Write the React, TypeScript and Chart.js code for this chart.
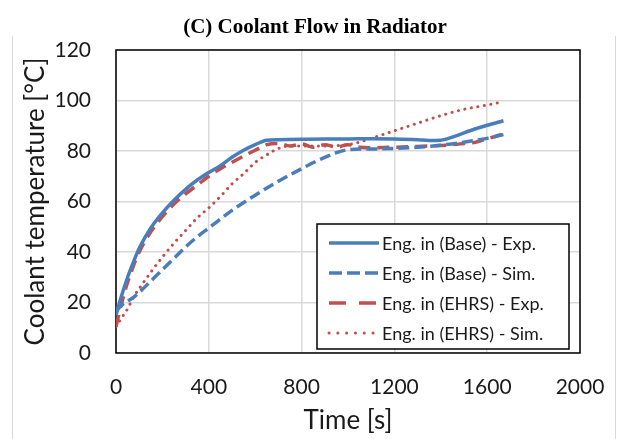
import React, { useEffect, useRef } from "react";
import { Chart, registerables } from "chart.js";

Chart.register(...registerables);

const TITLE = "(C) Coolant Flow in Radiator";
const X_TITLE = "Time [s]";
const Y_TITLE = "Coolant temperature [°C]";
const LABELS = [
  "Eng. in (Base) - Exp.",
  "Eng. in (Base) - Sim.",
  "Eng. in (EHRS) - Exp.",
  "Eng. in (EHRS) - Sim.",
];

const baseExpT = [0, 25, 50, 75, 100, 150, 200, 250, 300, 350, 400, 450, 500, 550, 600, 650, 700, 800, 900, 1000, 1100, 1200, 1300, 1350, 1400, 1450, 1500, 1550, 1600, 1670];
const baseExpV = [15, 23, 30, 36, 41.5, 49.5, 55.5, 60.5, 64.8, 68.5, 71.5, 74.2, 77.5, 80.3, 82.5, 84.3, 84.5, 84.7, 84.8, 84.8, 84.9, 84.8, 84.5, 84.2, 84.3, 85.5, 87.2, 88.8, 90.2, 92];

const baseSimT = [0, 25, 50, 75, 100, 150, 200, 250, 300, 350, 400, 500, 600, 700, 800, 900, 1000, 1100, 1200, 1300, 1400, 1500, 1600, 1670];
const baseSimV = [16.5, 19, 20.5, 22, 24, 28.5, 33, 37.5, 42, 46, 49.5, 56.5, 62.5, 68, 73, 77.5, 80.5, 80.8, 81, 81.5, 82.3, 83.5, 85, 86.5];

const ehrsExpT = [0, 25, 50, 75, 100, 150, 200, 250, 300, 350, 400, 450, 500, 550, 600, 650, 700, 750, 800, 850, 900, 950, 1000, 1050, 1100, 1200, 1300, 1400, 1450, 1500, 1550, 1600, 1670];
const ehrsExpV = [10.5, 20, 28, 34.5, 40, 48, 54, 59, 63, 66.5, 70, 73, 75.5, 78, 80.3, 82.5, 83, 82, 82.8, 81.5, 82.5, 81.5, 82.5, 81.5, 81.3, 81.5, 81.8, 82.2, 82.5, 83, 83.5, 84.8, 86.8];

const ehrsSimT = [0, 25, 50, 75, 100, 150, 200, 250, 300, 350, 400, 450, 500, 550, 600, 650, 700, 750, 800, 900, 1000, 1050, 1100, 1150, 1200, 1300, 1400, 1500, 1600, 1670];
const ehrsSimV = [10.5, 14, 17.5, 22, 25.5, 32, 38, 43.5, 48.5, 53.5, 57.5, 62, 67, 71, 75.5, 78.5, 81, 82, 82, 82, 82.5, 83.5, 85, 86.5, 88, 91, 94, 96.5, 98.2, 99.5];

const X_TICKS = [0, 400, 800, 1200, 1600, 2000];
const Y_TICKS = [0, 20, 40, 60, 80, 100, 120];

const BLUE = "#4a7ebb";
const RED = "#c0504d";
const FONT = "Lato, 'Open Sans', sans-serif";

const toXY = (t: number[], v: number[]) => t.map((x, i) => ({ x, y: v[i] }));

const extrasPlugin = {
  id: "extras",
  beforeDraw(chart: any) {
    const { ctx, width, height } = chart;
    ctx.save();
    ctx.fillStyle = "#fff";
    ctx.fillRect(0, 0, width, height);
    ctx.strokeStyle = "#d9d9d9";
    ctx.lineWidth = 1;
    ctx.beginPath();
    ctx.moveTo(12.5, 36);
    ctx.lineTo(12.5, height);
    ctx.moveTo(615.5, 36);
    ctx.lineTo(615.5, height);
    ctx.stroke();
    ctx.fillStyle = "#000";
    ctx.font = "bold 21px 'Liberation Serif', 'Times New Roman', serif";
    ctx.textAlign = "center";
    ctx.textBaseline = "middle";
    ctx.fillText(TITLE, 315, 28);
    ctx.restore();
  },
  beforeDatasetsDraw(chart: any) {
    const { ctx, chartArea: a } = chart;
    ctx.save();
    ctx.strokeStyle = "#000";
    ctx.lineWidth = 1.5;
    ctx.strokeRect(a.left, a.top, a.right - a.left, a.bottom - a.top);
    ctx.restore();
  },
  afterDraw(chart: any) {
    const { ctx, chartArea: a } = chart;
    const w = 252;
    const h = 125;
    const x0 = a.right - 11 - w;
    const y0 = a.bottom - 4 - h;
    ctx.save();
    ctx.fillStyle = "#fff";
    ctx.fillRect(x0, y0, w, h);
    ctx.strokeStyle = "#000";
    ctx.lineWidth = 1.5;
    ctx.strokeRect(x0, y0, w, h);
    ctx.font = `18px ${FONT}`;
    ctx.textBaseline = "middle";
    ctx.textAlign = "left";
    chart.data.datasets.forEach((ds: any, i: number) => {
      const cy = y0 + 19 + i * 30;
      ctx.save();
      ctx.strokeStyle = ds.borderColor;
      ctx.lineWidth = ds.borderWidth;
      ctx.lineCap = ds.legendCap || "butt";
      ctx.setLineDash(ds.legendDash || []);
      ctx.beginPath();
      ctx.moveTo(x0 + 12, cy);
      ctx.lineTo(x0 + 62, cy);
      ctx.stroke();
      ctx.restore();
      ctx.fillStyle = "#1a1a1a";
      ctx.fillText(ds.label, x0 + 65, cy + 1);
    });
    ctx.restore();
  },
};

export default function App() {
  const ref = useRef<HTMLCanvasElement>(null);
  useEffect(() => {
    if (!ref.current) return;
    const chart = new Chart(ref.current, {
      type: "line",
      data: {
        datasets: [
          {
            label: LABELS[0],
            data: toXY(baseExpT, baseExpV),
            borderColor: BLUE,
            borderWidth: 3.5,
            cubicInterpolationMode: "monotone",
            legendDash: [],
          } as any,
          {
            label: LABELS[1],
            data: toXY(baseSimT, baseSimV),
            borderColor: BLUE,
            borderWidth: 3.5,
            borderDash: [11, 5],
            cubicInterpolationMode: "monotone",
            legendDash: [13, 5],
          } as any,
          {
            label: LABELS[2],
            data: toXY(ehrsExpT, ehrsExpV),
            borderColor: RED,
            borderWidth: 3.5,
            borderDash: [12, 7],
            cubicInterpolationMode: "monotone",
            legendDash: [17, 13],
          } as any,
          {
            label: LABELS[3],
            data: toXY(ehrsSimT, ehrsSimV),
            borderColor: RED,
            borderWidth: 3,
            borderDash: [0.1, 6.5],
            borderCapStyle: "round",
            cubicInterpolationMode: "monotone",
            legendDash: [0.1, 8.7],
            legendCap: "round",
          } as any,
        ],
      },
      options: {
        responsive: false,
        animation: false,
        events: [],
        layout: { padding: { top: 50, right: 40, left: 0, bottom: 0 } },
        elements: { point: { radius: 0 }, line: { fill: false } },
        plugins: {
          legend: { display: false },
          title: { display: false },
          tooltip: { enabled: false },
        },
        scales: {
          x: {
            type: "linear",
            min: 0,
            max: 2000,
            afterFit: (s: any) => {
              s.height = 86;
              s.paddingLeft = 0;
              s.paddingRight = 0;
            },
            afterBuildTicks: (s: any) => {
              s.ticks = X_TICKS.map((v) => ({ value: v }));
            },
            grid: { color: "#d9d9d9", lineWidth: 1.5, drawTicks: false },
            border: { display: false },
            ticks: {
              padding: 22,
              color: "#1a1a1a",
              font: { family: FONT, size: 21 },
              maxRotation: 0,
              callback: (v: any) => String(v),
            },
            title: {
              display: true,
              text: X_TITLE,
              color: "#1a1a1a",
              font: { family: FONT, size: 26 },
              padding: { top: 0, bottom: 3 },
            },
          },
          y: {
            type: "linear",
            min: 0,
            max: 120,
            afterFit: (s: any) => {
              s.width = 116;
              s.paddingTop = 0;
              s.paddingBottom = 0;
            },
            afterBuildTicks: (s: any) => {
              s.ticks = Y_TICKS.map((v) => ({ value: v }));
            },
            grid: { color: "#d9d9d9", lineWidth: 1.5, drawTicks: false },
            border: { display: false },
            ticks: {
              padding: 25,
              color: "#1a1a1a",
              font: { family: FONT, size: 21 },
              callback: (v: any) => String(v),
            },
            title: {
              display: true,
              text: Y_TITLE,
              color: "#1a1a1a",
              font: { family: FONT, size: 26 },
              padding: { top: 20, bottom: 0 },
            },
          },
        },
      },
      plugins: [extrasPlugin],
    });
    return () => chart.destroy();
  }, []);
  return (
    <div style={{ position: "absolute", left: 0, top: 0, width: 620, height: 439 }}>
      <canvas ref={ref} width={620} height={439} style={{ display: "block" }} />
    </div>
  );
}
